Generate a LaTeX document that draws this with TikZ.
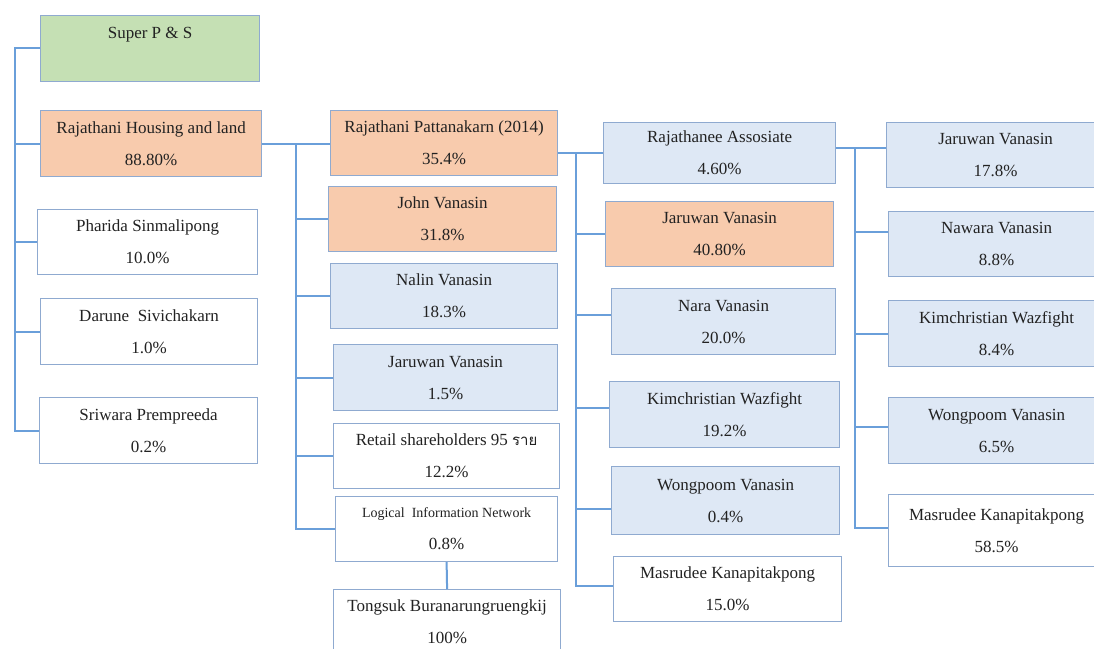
\documentclass[tikz,border=0pt]{standalone}
\usepackage{fontspec}
\setmainfont{Liberation Serif}
\newfontfamily\thaifont[Script=Thai]{Loma}
\usetikzlibrary{calc}
\definecolor{bordc}{HTML}{8FAAD0}
\definecolor{connc}{HTML}{6A9FDA}
\definecolor{txtc}{HTML}{222222}
\definecolor{greenf}{HTML}{C5E0B4}
\definecolor{orangef}{HTML}{F8CBAD}
\definecolor{bluef}{HTML}{DEE8F5}
\tikzset{
  box/.style={draw=bordc, line width=1.2pt, inner sep=0pt, anchor=north west,
    align=center, text=txtc, font=\fontsize{17}{32}\selectfont},
  conn/.style={draw=connc, line width=2pt},
}
\newcommand\bx[7]{\node[box,fill=#2,minimum width=#5pt,minimum height=#6pt] (#1) at (#3,#4) {#7};}
\begin{document}
\begin{tikzpicture}[x=1pt,y=-1pt]
\useasboundingbox (0,0) rectangle (1094,648);
\fill[white] (0,0) rectangle (1094,648);
% column 1
\bx{super}{greenf}{40}{15}{219}{66}{Super P \& S\\ ~}
\bx{housing}{orangef}{40}{110}{221}{66}{Rajathani Housing and land\\ 88.80\%}
\bx{pharida}{white}{37}{209}{220}{65}{Pharida Sinmalipong\\ 10.0\%}
\bx{darune}{white}{40}{298}{217}{66}{Darune\ \ Sivichakarn\\ 1.0\%}
\bx{sriwara}{white}{39}{397}{218}{66}{Sriwara Prempreeda\\ 0.2\%}
% column 2
\bx{patt}{orangef}{330}{110}{227}{65}{Rajathani Pattanakarn (2014)\\ 35.4\%}
\bx{john}{orangef}{328}{186}{228}{65}{John Vanasin\\ 31.8\%}
\bx{nalin}{bluef}{330}{263}{227}{65}{Nalin Vanasin\\ 18.3\%}
\bx{jaru1}{bluef}{333}{344}{224}{66}{Jaruwan Vanasin\\ 1.5\%}
\bx{retail}{white}{333}{423}{226}{65}{Retail shareholders 95 {\thaifont\fontsize{15}{32}\selectfont ราย}\\ 12.2\%}
\bx{logical}{white}{335}{496}{222}{65}{{\fontsize{14}{32}\selectfont Logical\ \ Information Network}\\ 0.8\%}
\bx{tongsuk}{white}{333}{589}{227}{65}{Tongsuk Buranarungruengkij\\ 100\%}
% column 3
\bx{assoc}{bluef}{603}{122}{232}{61}{Rajathanee Assosiate\\ 4.60\%}
\bx{jaru2}{orangef}{605}{201}{228}{65}{Jaruwan Vanasin\\ 40.80\%}
\bx{nara}{bluef}{611}{288}{224}{66}{Nara Vanasin\\ 20.0\%}
\bx{kim1}{bluef}{609}{381}{230}{66}{Kimchristian Wazfight\\ 19.2\%}
\bx{wong1}{bluef}{611}{466}{228}{68}{Wongpoom Vanasin\\ 0.4\%}
\bx{masr1}{white}{613}{556}{228}{65}{Masrudee Kanapitakpong\\ 15.0\%}
% column 4
\bx{jaru3}{bluef}{886}{122}{218}{65}{Jaruwan Vanasin\\ 17.8\%}
\bx{nawara}{bluef}{888}{211}{216}{65}{Nawara Vanasin\\ 8.8\%}
\bx{kim2}{bluef}{888}{300}{216}{66}{Kimchristian Wazfight\\ 8.4\%}
\bx{wong2}{bluef}{888}{397}{216}{66}{Wongpoom Vanasin\\ 6.5\%}
\bx{masr2}{white}{888}{494}{216}{72}{Masrudee Kanapitakpong\\ 58.5\%}
% connectors column 1
\coordinate (lt) at (15,0);
\draw[conn] ([yshift=1pt]super.west) -- ([yshift=1pt]super.west -| lt) -- (sriwara.west -| lt) -- (sriwara.west);
\foreach \n in {housing,pharida,darune} \draw[conn] (\n.west -| lt) -- (\n.west);
% connectors column 2
\coordinate (mt) at (296,0);
\draw[conn] (housing.east) -- (housing.east -| patt.west);
\draw[conn] (housing.east -| mt) -- (logical.west -| mt) -- (logical.west);
\foreach \n in {john,nalin,jaru1,retail} \draw[conn] (\n.west -| mt) -- (\n.west);
\draw[conn] (logical.south) -- (tongsuk.north);
% connectors column 3
\coordinate (rt) at (576,0);
\draw[conn] (assoc.west -| patt.east) -- (assoc.west);
\draw[conn] (assoc.west -| rt) -- ([yshift=3pt]masr1.west -| rt) -- ([yshift=3pt]masr1.west);
\draw[conn] (jaru2.west -| rt) -- (jaru2.west);
\draw[conn] ([yshift=7pt]nara.west -| rt) -- ([yshift=7pt]nara.west);
\draw[conn] ([yshift=7pt]kim1.west -| rt) -- ([yshift=7pt]kim1.west);
\draw[conn] ([yshift=-8pt]wong1.west -| rt) -- ([yshift=-8pt]wong1.west);
% connectors column 4
\coordinate (ft) at (855,0);
\coordinate (j3) at ([yshift=7.5pt]jaru3.west);
\draw[conn] (j3 -| assoc.east) -- (j3);
\draw[conn] (j3 -| ft) -- ([yshift=3pt]masr2.west -| ft) -- ([yshift=3pt]masr2.west);
\draw[conn] ([yshift=12pt]nawara.west -| ft) -- ([yshift=12pt]nawara.west);
\draw[conn] (kim2.west -| ft) -- (kim2.west);
\draw[conn] ([yshift=4pt]wong2.west -| ft) -- ([yshift=4pt]wong2.west);
\end{tikzpicture}
\end{document}
